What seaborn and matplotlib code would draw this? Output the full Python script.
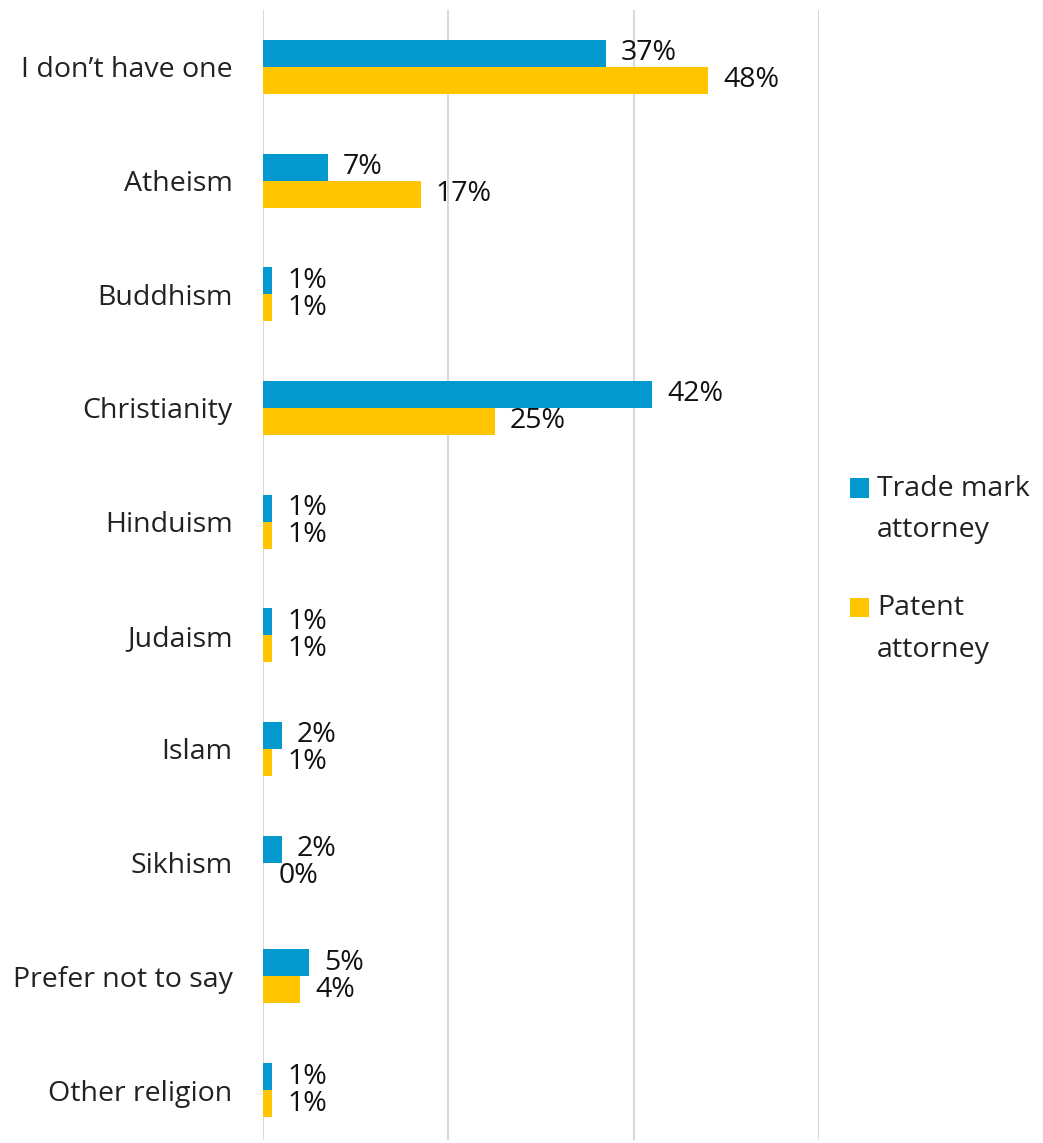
import pandas as pd
import matplotlib
matplotlib.use("Agg")
import matplotlib.pyplot as plt
import seaborn as sns
from matplotlib.patches import Patch, Rectangle
from matplotlib.legend_handler import HandlerPatch

# data
categories = ["I don\u2019t have one", "Atheism", "Buddhism", "Christianity", "Hinduism",
              "Judaism", "Islam", "Sikhism", "Prefer not to say", "Other religion"]
trade_mark = [37, 7, 1, 42, 1, 1, 2, 2, 5, 1]
patent = [48, 17, 1, 25, 1, 1, 1, 0, 4, 1]
series_names = ["Trade mark attorney", "Patent attorney"]
legend_labels = ["Trade mark\nattorney", "Patent\nattorney"]
colors = ["#0399CE", "#FFC600"]

df = pd.DataFrame({
    "religion": categories * 2,
    "pct": trade_mark + patent,
    "group": [series_names[0]] * len(categories) + [series_names[1]] * len(categories),
})

sns.set_style("white")
plt.rcParams["font.family"] = ["Open Sans", "DejaVu Sans"]

fig = plt.figure(figsize=(10.43, 11.43), dpi=100)
ax = fig.add_axes([0.2522, 0.0026, 0.533, 0.9886])

sns.barplot(data=df, x="pct", y="religion", hue="group", orient="h",
            palette=colors, width=0.475, linewidth=0, saturation=1,
            legend=False, ax=ax)

# value labels next to each bar
for cont in ax.containers:
    ax.bar_label(cont, labels=[f"{v:.0f}%" for v in cont.datavalues],
                 padding=11, fontsize=20.5, fontweight="medium", color="#111111")

ax.set_xlim(0, 60)
ax.set_ylim(9.44, -0.5)
ax.set_xticks([0, 20, 40, 60])
ax.set_xticklabels([])
ax.xaxis.grid(True, color="#d9d9d9", linewidth=1.5)
ax.set_axisbelow(True)
ax.set_xlabel("")
ax.set_ylabel("")
ax.tick_params(axis="y", length=0, pad=22, labelsize=20.5, labelcolor="#222222")
ax.tick_params(axis="x", length=0)
for s in ax.spines.values():
    s.set_visible(False)


# legend square sits next to the first line of the wrapped label
def top_square(legend, orig_handle, xdescent, ydescent, width, height, fontsize):
    return Rectangle((-xdescent, -ydescent + 16), width, height)


handles = [Patch(facecolor=c, edgecolor="none") for c in colors]
leg = fig.legend(handles, legend_labels, loc="upper left", bbox_to_anchor=(0.790, 0.607),
                 frameon=False, fontsize=20.5, handlelength=0.67, handleheight=0.67,
                 handletextpad=0.3, labelspacing=1.75, labelcolor="#222222",
                 handler_map={Patch: HandlerPatch(patch_func=top_square)})
for t in leg.get_texts():
    t.set_linespacing(1.65)

fig.savefig("out.png", dpi=100)
